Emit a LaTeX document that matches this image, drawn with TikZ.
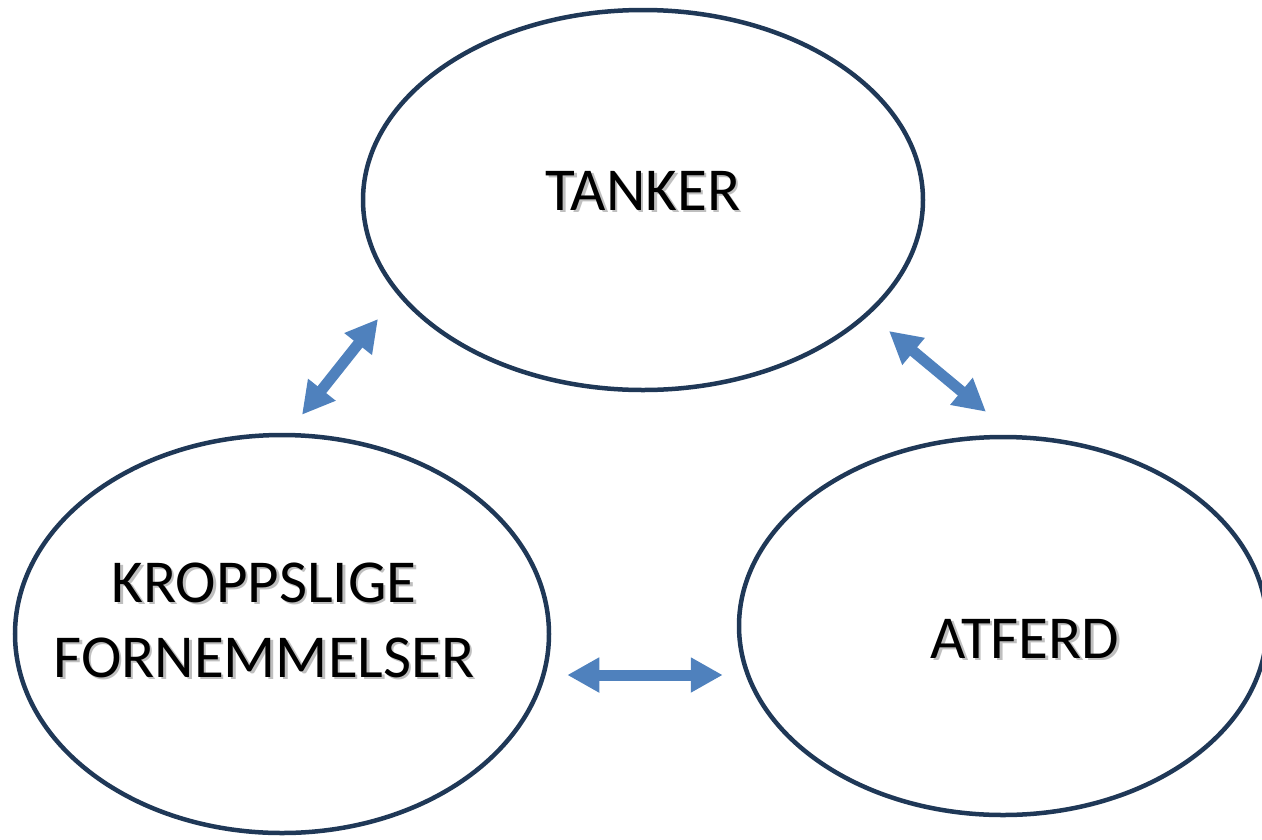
\documentclass[tikz,border=0pt]{standalone}
\usepackage{fontspec}
\setmainfont{Carlito}
\usepackage{xcolor}
\usepackage{tikz}
\usetikzlibrary{arrows.meta, shapes.geometric, positioning}

\definecolor{navy}{RGB}{31,56,87}
\definecolor{linkblue}{RGB}{79,129,189}
\newcommand\shadowed[1]{\leavevmode\rlap{\kern2.5pt\raisebox{-2.5pt}{\color{black!25}#1}}#1}

\begin{document}
\begin{tikzpicture}[
    x=1pt, y=1pt,
    bubble/.style = {ellipse, draw=navy, line width=4.5pt, fill=white,
                     inner sep=0pt},
    word/.style   = {anchor=base, align=center, text=black,
                     font=\fontsize{61}{75}\selectfont},
    link/.style   = {draw=linkblue, line width=11pt,
                     {Triangle[width=33pt,length=32pt]}-{Triangle[width=33pt,length=32pt]}},
]
\useasboundingbox (0,0) rectangle (1262,-839);
\clip (0,0) rectangle (1262,-839);

\node[bubble, minimum width=560pt, minimum height=380pt] (tanker) at (643,-200) {};
\node[bubble, minimum width=534pt, minimum height=398pt] (kropp)  at (282,-634) {};
\node[bubble, minimum width=528pt, minimum height=378pt] (atferd) at (1003,-626) {};

\node[word] (tankertxt) at ([yshift=-10pt]tanker.center) {\shadowed{TANKER}};
\node[word] (kropptxt)  at ([xshift=-18pt,yshift=-43pt]kropp.center)
    {\shadowed{KROPPSLIGE}\\\shadowed{FORNEMMELSER}};
\node[word] (atferdtxt) at ([xshift=22pt,yshift=-32pt]atferd.center) {\shadowed{ATFERD}};

\draw[link] ([shift={(20pt,18pt)}]kropp.north)
         -- ([shift={(-265pt,-119pt)}]tanker.center);
\draw[link] ([shift={(246pt,-131pt)}]tanker.center)
         -- ([shift={(-17pt,23pt)}]atferd.north);
\draw[link] ([shift={(16pt,-41pt)}]kropp.east)
         -- ([shift={(-14pt,-49pt)}]atferd.west);

\end{tikzpicture}
\end{document}
